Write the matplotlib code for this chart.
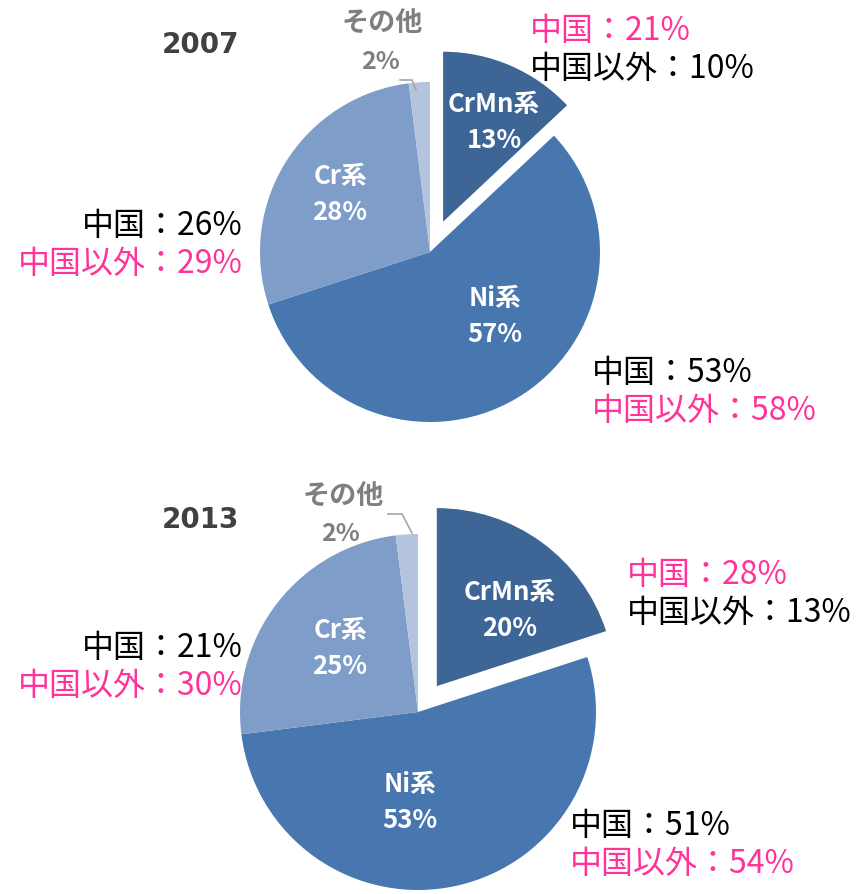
import matplotlib
matplotlib.use("Agg")
import matplotlib.pyplot as plt

plt.rcParams['font.family'] = ['Noto Sans CJK JP', 'DejaVu Sans']

W, H = 863, 894

categories = ["CrMn系", "Ni系", "Cr系", "その他"]
years = ["2007", "2013"]
shares_2007 = [13, 57, 28, 2]
shares_2013 = [20, 53, 25, 2]
china_2007 = {"CrMn系": 21, "Ni系": 53, "Cr系": 26}
nonchina_2007 = {"CrMn系": 10, "Ni系": 58, "Cr系": 29}
china_2013 = {"CrMn系": 28, "Ni系": 51, "Cr系": 21}
nonchina_2013 = {"CrMn系": 13, "Ni系": 54, "Cr系": 30}

colors = ["#3D6596", "#4877B0", "#7F9DC9", "#B5C4DE"]
PINK = "#FF3399"
GRAY = "#7F7F7F"

fig = plt.figure(figsize=(W / 100, H / 100), dpi=100)
ax = fig.add_axes([0, 0, 1, 1])


def Y(y):
    return H - y


layouts = [
    dict(shares=shares_2007, china=china_2007, non=nonchina_2007, year=years[0],
         center=(430, 252), r=170, explode=33,
         title=(200, 45),
         inner={"CrMn系": (494, 104), "Ni系": (495, 298), "Cr系": (340, 177)},
         outer={"CrMn系": (530, 31, "left", True), "Cr系": (243, 226, "right", False),
                "Ni系": (592, 373, "left", False)},
         other_lbl=(382, 24), other_pct=(380, 62),
         leader=[(400, 80), (412, 80), (416, 90)]),
    dict(shares=shares_2013, china=china_2013, non=nonchina_2013, year=years[1],
         center=(418, 712), r=178, explode=32,
         title=(200, 520),
         inner={"CrMn系": (510, 592), "Ni系": (410, 785), "Cr系": (340, 630)},
         outer={"CrMn系": (627, 575, "left", True), "Cr系": (243, 648, "right", False),
                "Ni系": (570, 826, "left", False)},
         other_lbl=(343, 497), other_pct=(340, 534),
         leader=[(388, 514), (402, 514), (412, 533)]),
]

for L in layouts:
    cx, cy = L["center"]
    explode = [L["explode"], 0, 0, 0]
    ax.pie(L["shares"], colors=colors, startangle=90, counterclock=False,
           explode=explode, center=(cx, Y(cy)), radius=L["r"],
           wedgeprops=dict(linewidth=0), frame=True)

    ax.text(L["title"][0], Y(L["title"][1]), L["year"], fontsize=20, fontweight="bold",
            color="#404040", ha="center", va="center", family=["DejaVu Sans"])

    for cat, val in zip(categories, L["shares"]):
        if cat in L["inner"]:
            x, y = L["inner"][cat]
            ax.text(x, Y(y), cat, fontsize=18.5, fontweight="bold",
                    color="white", ha="center", va="center")
            ax.text(x, Y(y + 36), f"{val}%", fontsize=18.5, fontweight="bold",
                    color="white", ha="center", va="center")
        else:
            x, y = L["other_lbl"]
            ax.text(x, Y(y), cat, fontsize=19.5, fontweight="bold", color=GRAY,
                    ha="center", va="center")
            x, y = L["other_pct"]
            ax.text(x, Y(y), f"{val}%", fontsize=18, fontweight="bold", color=GRAY,
                    ha="center", va="center")

    xs = [p[0] for p in L["leader"]]
    ys = [Y(p[1]) for p in L["leader"]]
    ax.plot(xs, ys, color="#A6A6A6", lw=1.2)

    for cat, (x, y, ha, china_pink) in L["outer"].items():
        c1 = PINK if china_pink else "black"
        c2 = "black" if china_pink else PINK
        ax.text(x, Y(y), f"中国：{L['china'][cat]}%", fontsize=23, color=c1,
                ha=ha, va="center")
        ax.text(x, Y(y + 38), f"中国以外：{L['non'][cat]}%", fontsize=23, color=c2,
                ha=ha, va="center")

ax.set_xlim(0, W)
ax.set_ylim(0, H)
ax.set_aspect("equal")
ax.axis("off")

fig.savefig("out.png", dpi=100)
